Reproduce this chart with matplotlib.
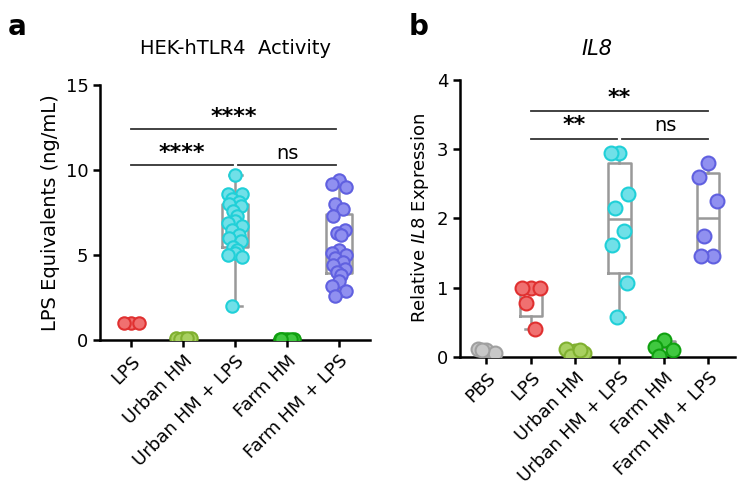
import numpy as np
import matplotlib.pyplot as plt

# panel a data
a_groups = ['LPS', 'Urban HM', 'Urban HM + LPS', 'Farm HM', 'Farm HM + LPS']
a_lps = [1.0, 1.0, 1.0]
a_urban = [0.1, 0.1, 0.12, 0.08, 0.1]
a_urban_lps = [9.7, 8.6, 8.6, 8.3, 8.1, 8.0, 7.9, 7.6, 7.3, 7.0, 6.9, 6.7, 6.5, 6.2,
               6.0, 5.8, 5.5, 5.3, 5.1, 5.0, 4.9, 2.0]
a_farm = [0.05, 0.06, 0.05, 0.07, 0.05, 0.06]
a_farm_lps = [9.4, 9.2, 9.0, 8.0, 7.7, 7.3, 6.5, 6.3, 6.2, 5.3, 5.1, 5.0, 4.8, 4.6,
              4.4, 4.2, 4.0, 3.8, 3.5, 3.2, 2.9, 2.6]
a_data = [a_lps, a_urban, a_urban_lps, a_farm, a_farm_lps]

# panel b data
b_groups = ['PBS', 'LPS', 'Urban HM', 'Urban HM + LPS', 'Farm HM', 'Farm HM + LPS']
b_pbs = [0.1, 0.12, 0.05, 0.1]
b_lps = [1.0, 1.0, 1.0, 0.78, 0.4]
b_urban = [0.08, 0.12, 0.05, 0.02, 0.1]
b_urban_lps = [2.95, 2.95, 2.35, 2.15, 1.82, 1.62, 1.07, 0.57]
b_farm = [0.25, 0.15, 0.1, 0.02]
b_farm_lps = [2.8, 2.6, 2.25, 1.75, 1.45, 1.45]
b_data = [b_pbs, b_lps, b_urban, b_urban_lps, b_farm, b_farm_lps]

col_fill = {'PBS': '#c8c8c8', 'LPS': '#f07070', 'Urban HM': '#a8d060', 'Urban HM + LPS': '#70e0e8',
            'Farm HM': '#40c840', 'Farm HM + LPS': '#9090f0'}
col_edge = {'PBS': '#a0a0a0', 'LPS': '#e03030', 'Urban HM': '#80b030', 'Urban HM + LPS': '#20d0d8',
            'Farm HM': '#10a010', 'Farm HM + LPS': '#6060e0'}


def jitter(n, width):
    # simple deterministic spread
    pattern = np.array([0, -1, 1, -0.5, 0.5, -0.8, 0.8, -0.3, 0.3])
    return np.array([pattern[i % len(pattern)] for i in range(n)]) * width


def panel(ax, groups, data, size, width):
    stats = []
    for d in data:
        q1, med, q3 = np.percentile(d, [25, 50, 75], method='weibull')
        stats.append(dict(med=med, q1=q1, q3=q3, whislo=min(d), whishi=max(d), fliers=[]))
    ax.bxp(stats, positions=range(len(groups)), widths=0.5, showfliers=False,
           boxprops=dict(color='#999999', lw=1.8), whiskerprops=dict(color='#999999', lw=1.8),
           capprops=dict(color='#999999', lw=1.8), medianprops=dict(color='#999999', lw=1.8))
    for i, (g, d) in enumerate(zip(groups, data)):
        ax.scatter(i + jitter(len(d), width), d, s=size, color=col_fill[g],
                   edgecolor=col_edge[g], lw=1.5, zorder=3)
    ax.set_xticks(range(len(groups)))
    ax.set_xticklabels(groups, rotation=45, ha='right', rotation_mode='anchor', fontsize=13)
    ax.spines['top'].set_visible(False)
    ax.spines['right'].set_visible(False)
    ax.spines['left'].set_linewidth(1.8)
    ax.spines['bottom'].set_linewidth(1.8)
    ax.tick_params(width=1.8, length=5, labelsize=13)
    ax.set_xlim(-0.6, len(groups) - 0.4)


def bracket(ax, x1, x2, y, text, ty):
    ax.plot([x1, x2], [y, y], color='#333333', lw=1.3, clip_on=False)
    ax.text((x1 + x2) / 2, ty, text, ha='center', va='bottom', fontsize=14 if text == 'ns' else 16,
            fontweight='bold' if text != 'ns' else 'normal')


fig = plt.figure(figsize=(7.49, 4.93), dpi=100)
ax1 = fig.add_axes([0.134, 0.31, 0.36, 0.518])
ax2 = fig.add_axes([0.614, 0.276, 0.367, 0.562])

panel(ax1, a_groups, a_data, 80, 0.14)
ax1.set_ylim(0, 15)
ax1.set_yticks([0, 5, 10, 15])
ax1.set_ylabel('LPS Equivalents (ng/mL)', fontsize=14)
ax1.set_title('HEK-hTLR4  Activity', fontsize=14, pad=22)
bracket(ax1, 0, 3.95, 12.4, '****', 12.5)
bracket(ax1, 0, 1.95, 10.3, '****', 10.4)
bracket(ax1, 2.05, 3.95, 10.3, 'ns', 10.4)

panel(ax2, b_groups, b_data, 100, 0.2)
ax2.set_ylim(0, 4)
ax2.set_yticks([0, 1, 2, 3, 4])
ax2.set_ylabel('Relative $\\it{IL8}$ Expression', fontsize=13)
ax2.set_title('IL8', fontsize=15, style='italic', pad=18)
bracket(ax2, 1, 5, 3.55, '**', 3.6)
bracket(ax2, 1, 2.95, 3.15, '**', 3.2)
bracket(ax2, 3.05, 5, 3.15, 'ns', 3.2)

fig.text(0.01, 0.93, 'a', fontsize=20, fontweight='bold')
fig.text(0.545, 0.93, 'b', fontsize=20, fontweight='bold')

fig.savefig('out.png', dpi=100)
